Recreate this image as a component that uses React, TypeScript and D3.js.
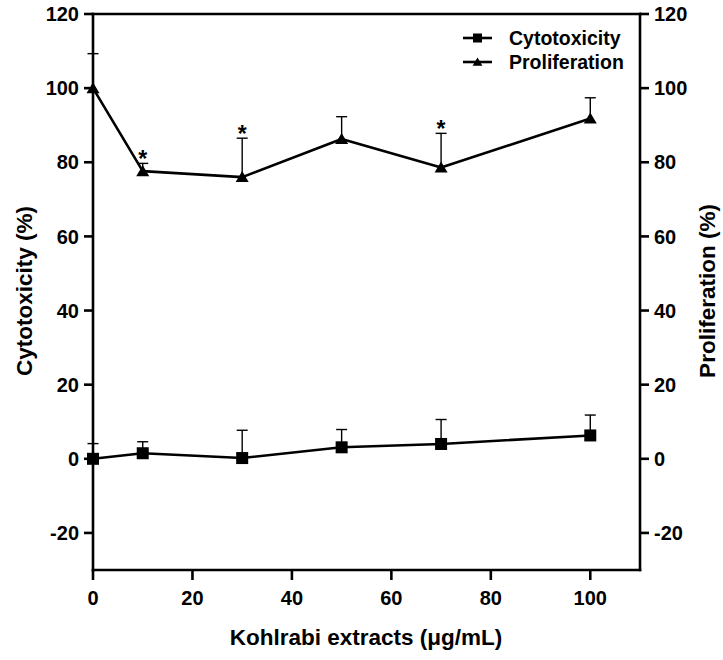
import React from "react";
import * as d3 from "d3";

// Extract concentrations (µg/mL)
const doses = [0, 10, 30, 50, 70, 100];
// Cytotoxicity (%) mean and SD
const cytoMean = [0, 1.5, 0.2, 3.1, 4.0, 6.3];
const cytoSD = [4.1, 3.1, 7.5, 4.8, 6.6, 5.5];
// Proliferation (%) mean and SD
const prolMean = [100, 77.6, 76.0, 86.3, 78.6, 91.8];
const prolSD = [9.3, 2.1, 10.5, 6.0, 9.2, 5.6];
// Significance markers on proliferation
const prolSig = [false, true, true, false, true, false];

const xTicks = [0, 20, 40, 60, 80, 100];
const yTicks = [-20, 0, 20, 40, 60, 80, 100, 120];

const W = 723;
const H = 660;
const left = 93;
const right = 640;
const top = 14;
const bottom = 570;

const FONT = "'Liberation Sans', Arial, Helvetica, sans-serif";

export default function App() {
  const x = d3.scaleLinear().domain([0, 110]).range([left, right]);
  const y = d3.scaleLinear().domain([-30, 120]).range([bottom, top]);

  const line = d3
    .line<number>()
    .x((_, i) => x(doses[i]))
    .y((d) => y(d));

  const sq = 6;
  const triPath = (cx: number, cy: number, s = 1) =>
    `M${cx},${cy - 6 * s}L${cx + 6.5 * s},${cy + 5 * s}L${cx - 6.5 * s},${cy + 5 * s}Z`;

  const errBar = (i: number, mean: number, sd: number, key: string) => {
    const cx = x(doses[i]);
    const y0 = y(mean);
    const y1 = y(mean + sd);
    return (
      <g key={key} stroke="#000" strokeWidth={1.4}>
        <line x1={cx} x2={cx} y1={y0} y2={y1} />
        <line x1={cx - 5.5} x2={cx + 5.5} y1={y1} y2={y1} />
      </g>
    );
  };

  const tickFont = { fontFamily: FONT, fontWeight: 700, fontSize: 20 } as const;
  const titleFont = { fontFamily: FONT, fontWeight: 700, fontSize: 22.5 } as const;

  return (
    <svg width={W} height={H} style={{ display: "block", position: "absolute", left: 0, top: 0 }}>
      <rect width={W} height={H} fill="#fff" />

      {/* frame */}
      <g stroke="#000" strokeWidth={2.6} fill="none" strokeLinecap="square">
        <line x1={left} x2={left} y1={top} y2={bottom} />
        <line x1={right} x2={right} y1={top} y2={bottom} />
        <line x1={left} x2={right} y1={top} y2={top} />
        <line x1={left} x2={right} y1={bottom} y2={bottom} />
      </g>

      {/* left axis */}
      {yTicks.map((t) => (
        <g key={"yl" + t}>
          <line x1={left - 9} x2={left} y1={y(t)} y2={y(t)} stroke="#000" strokeWidth={2.6} />
          <text x={left - 14} y={y(t)} dy="0.36em" textAnchor="end" {...tickFont}>
            {t}
          </text>
        </g>
      ))}

      {/* right axis */}
      {yTicks.map((t) => (
        <g key={"yr" + t}>
          <line x1={right} x2={right + 9} y1={y(t)} y2={y(t)} stroke="#000" strokeWidth={2.6} />
          <text x={right + 14} y={y(t)} dy="0.36em" textAnchor="start" {...tickFont}>
            {t}
          </text>
        </g>
      ))}

      {/* bottom axis */}
      {xTicks.map((t) => (
        <g key={"x" + t}>
          <line x1={x(t)} x2={x(t)} y1={bottom} y2={bottom + 10} stroke="#000" strokeWidth={2.6} />
          <text x={x(t)} y={bottom + 35} textAnchor="middle" {...tickFont}>
            {t}
          </text>
        </g>
      ))}

      {/* axis titles */}
      <text transform={`translate(32,291) rotate(-90)`} textAnchor="middle" {...titleFont}>
        Cytotoxicity (%)
      </text>
      <text transform={`translate(715,291) rotate(-90)`} textAnchor="middle" {...titleFont}>
        Proliferation (%)
      </text>
      <text x={366} y={645} textAnchor="middle" {...titleFont}>
        Kohlrabi extracts (μg/mL)
      </text>

      {/* error bars */}
      {prolMean.map((m, i) => errBar(i, m, prolSD[i], "pe" + i))}
      {cytoMean.map((m, i) => errBar(i, m, cytoSD[i], "ce" + i))}

      {/* series lines */}
      <path d={line(prolMean) ?? ""} fill="none" stroke="#000" strokeWidth={2.6} strokeLinejoin="round" />
      <path d={line(cytoMean) ?? ""} fill="none" stroke="#000" strokeWidth={2.6} strokeLinejoin="round" />

      {/* markers */}
      {prolMean.map((m, i) => (
        <path key={"pt" + i} d={triPath(x(doses[i]), y(m))} fill="#000" />
      ))}
      {cytoMean.map((m, i) => (
        <rect key={"cs" + i} x={x(doses[i]) - sq} y={y(m) - sq} width={sq * 2} height={sq * 2} fill="#000" />
      ))}

      {/* significance */}
      {prolMean.map((m, i) =>
        prolSig[i] ? (
          <text
            key={"s" + i}
            x={x(doses[i])}
            y={y(m + prolSD[i]) + 4}
            textAnchor="middle"
            fontFamily={FONT}
            fontWeight={700}
            fontSize={23}
          >
            *
          </text>
        ) : null
      )}

      {/* legend */}
      <g>
        <line x1={463} x2={492} y1={38} y2={38} stroke="#000" strokeWidth={2.6} />
        <rect x={477.5 - 4.5} y={38 - 4.5} width={9} height={9} fill="#000" />
        <text x={509} y={38} dy="0.36em" fontFamily={FONT} fontWeight={700} fontSize={19.5}>
          Cytotoxicity
        </text>
        <line x1={463} x2={492} y1={62} y2={62} stroke="#000" strokeWidth={2.6} />
        <path d={triPath(477.5, 62, 0.75)} fill="#000" />
        <text x={509} y={62} dy="0.36em" fontFamily={FONT} fontWeight={700} fontSize={19.5}>
          Proliferation
        </text>
      </g>
    </svg>
  );
}
